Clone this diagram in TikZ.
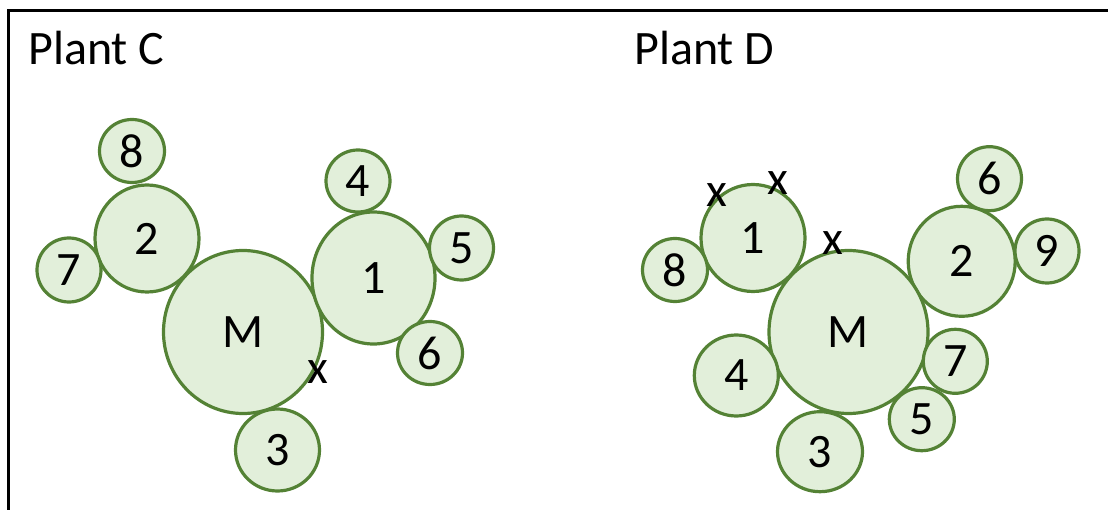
\documentclass[tikz,border=0pt]{standalone}
\usepackage{fontspec}
\setmainfont{Carlito}
\usetikzlibrary{shapes.geometric}

\definecolor{plantline}{HTML}{548235}
\definecolor{plantfill}{HTML}{E2EFDA}

\tikzset{
  pot/.style={ellipse, draw=plantline, fill=plantfill, line width=3.2pt,
    inner sep=0pt, outer sep=0pt, font=\fontsize{48}{57}\selectfont},
  title/.style={anchor=base west, inner sep=0pt, font=\fontsize{48}{57}\selectfont},
  xmark/.style={inner sep=0pt, font=\fontsize{48}{57}\selectfont},
  frameline/.style={line width=3pt, black}
}

\newcommand{\potnode}[6]{%
  \node[pot, minimum width=#4pt, minimum height=#5pt] (#1) at (#2,#3) {#6};}

\begin{document}
\begin{tikzpicture}[x=1pt, y=-1pt]
  \useasboundingbox (0,0) rectangle (1108,510);
  \clip (0,0) rectangle (1108,510);

  % outer frame (runs off the right and bottom edges)
  \coordinate (fbl) at (8,540);
  \coordinate (ftl) at (8,10.5);
  \coordinate (ftr) at (1140,10.5);
  \draw[frameline] (fbl) -- (ftl) -- (ftr);

  % ---------- Plant C ----------
  \node[title] (titleC) at (28,65) {Plant C};
  \potnode{c8}{132}{151}{65}{63}{8}
  \potnode{c2}{147}{238.5}{104}{107}{2}
  \potnode{c7}{69}{270}{64}{64}{7}
  \potnode{cM}{243}{332}{159}{163}{M}
  \potnode{c4}{358}{181}{64}{62}{4}
  \potnode{c1}{373.5}{278}{123}{132}{1}
  \potnode{c5}{461.5}{248}{64}{64}{5}
  \potnode{c6}{430}{353}{65}{63}{6}
  \potnode{c3}{277.5}{450}{84}{82}{3}
  \node[xmark] (cx1) at (318,372) {x};

  % ---------- Plant D ----------
  \node[title] (titleD) at (634,65) {Plant D};
  \potnode{d6}{989.5}{178.7}{64}{64}{6}
  \potnode{d1}{753}{238}{104}{107}{1}
  \potnode{d2}{961.7}{261.3}{107}{110}{2}
  \potnode{d9}{1047}{251}{64}{64}{9}
  \potnode{d8}{675}{270}{65}{63}{8}
  \potnode{dM}{848.5}{332}{159}{163}{M}
  \potnode{d4}{736.3}{375.5}{84}{81}{4}
  \potnode{d7}{955.3}{361.3}{64}{64}{7}
  \potnode{d5}{921.8}{419.2}{65}{63}{5}
  \potnode{d3}{820}{451.7}{85}{80}{3}
  \node[xmark] (dx1) at (717,195) {x};
  \node[xmark] (dx2) at (778,182.7) {x};
  \node[xmark] (dx3) at (832.5,243) {x};
\end{tikzpicture}
\end{document}
